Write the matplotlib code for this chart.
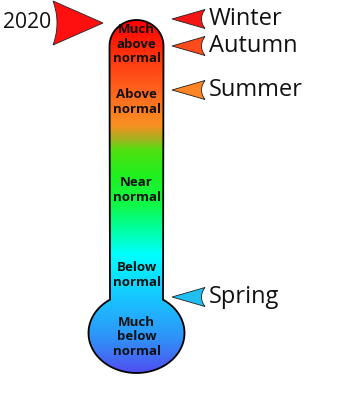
import numpy as np
import matplotlib
matplotlib.use("Agg")
import matplotlib.pyplot as plt
from matplotlib.path import Path
from matplotlib.patches import PathPatch, Polygon
from matplotlib.colors import LinearSegmentedColormap

plt.rcParams['font.family'] = ['Open Sans', 'DejaVu Sans']

# thermometer categories and where their labels sit (pixel rows)
categories = ["Much\nabove\nnormal", "Above\nnormal", "Near\nnormal",
              "Below\nnormal", "Much\nbelow\nnormal"]
category_level = [44, 102, 190, 275, 337]

# seasons and the level their arrows point at
seasons = ["Winter", "Autumn", "Summer", "Spring"]
season_level = [19, 46, 90, 297]
season_colors = ["#f51515", "#ff4b1c", "#ff8424", "#1fbff0"]

year = "2020"
year_level = 23

# gradient stops down the tube (pixel row, colour)
grad_rows = [20, 60, 95, 125, 138, 150, 175, 205, 228, 255, 300, 340, 373]
grad_cols = ["#ff0000", "#ff3a10", "#ff6a20", "#f89020", "#a8b020", "#50e010",
             "#20f020", "#10f848", "#00ff9a", "#00ffff", "#18c4ff", "#3090f8",
             "#5050f0"]


def thermo_path():
    cx = 136.5
    # rounded cap
    t = np.linspace(np.pi, 0, 40)
    cap = np.column_stack([cx + 27 * np.cos(t), 46 - 26 * np.sin(t)])
    # bulb ellipse
    a, b, cy = 48, 40, 333
    t0 = np.arccos(26.5 / a)
    t = np.linspace(t0, -np.pi - t0, 120)
    bulb = np.column_stack([cx + a * np.cos(t), cy - b * np.sin(t)])
    pts = np.vstack([cap, bulb, cap[:1]])
    return Path(pts, closed=True)


def arrowhead(ax, tip_x, y, back_x, half_h, depth, color):
    sign = np.sign(back_x - tip_x)
    u = np.linspace(-1, 1, 30)
    bx = back_x - sign * depth * (1 - u ** 2)
    by = y + half_h * u
    pts = np.vstack([[tip_x, y], np.column_stack([bx, by])])
    ax.add_patch(Polygon(pts, closed=True, fc=color, ec="#222222", lw=0.6,
                         zorder=3))


fig = plt.figure(figsize=(3.6, 4.07), dpi=100)
ax = fig.add_axes([0, 0, 1, 1])
ax.set_xlim(0, 360)
ax.set_ylim(407, 0)
ax.axis("off")

# gradient fill clipped by the thermometer outline
lo, hi = grad_rows[0], grad_rows[-1]
cmap = LinearSegmentedColormap.from_list(
    "thermo", [((r - lo) / (hi - lo), c) for r, c in zip(grad_rows, grad_cols)])
grad = np.linspace(0, 1, 400).reshape(-1, 1)
im = ax.imshow(grad, cmap=cmap, aspect="auto", extent=[80, 195, hi, lo],
               interpolation="bilinear", zorder=1)
outline = PathPatch(thermo_path(), fc="none", ec="black", lw=1.3, zorder=2)
ax.add_patch(outline)
im.set_clip_path(outline)

for lab, lev in zip(categories, category_level):
    ax.text(136.5, lev, lab, ha="center", va="center", fontsize=9.5,
            fontweight="bold", linespacing=1.15, color="#111111", zorder=4)

# year arrow
arrowhead(ax, 103, year_level, 53, 22, 4, "#ff1010")
ax.text(51, year_level - 1, year, ha="right", va="center", fontsize=15.2,
        color="#111111")

for name, lev, col in zip(seasons, season_level, season_colors):
    arrowhead(ax, 172, lev, 205, 9.5, 3.5, col)
    ax.text(209, lev, name, ha="left", va="center", fontsize=17,
            color="#111111")

fig.savefig("out.png", dpi=100)
